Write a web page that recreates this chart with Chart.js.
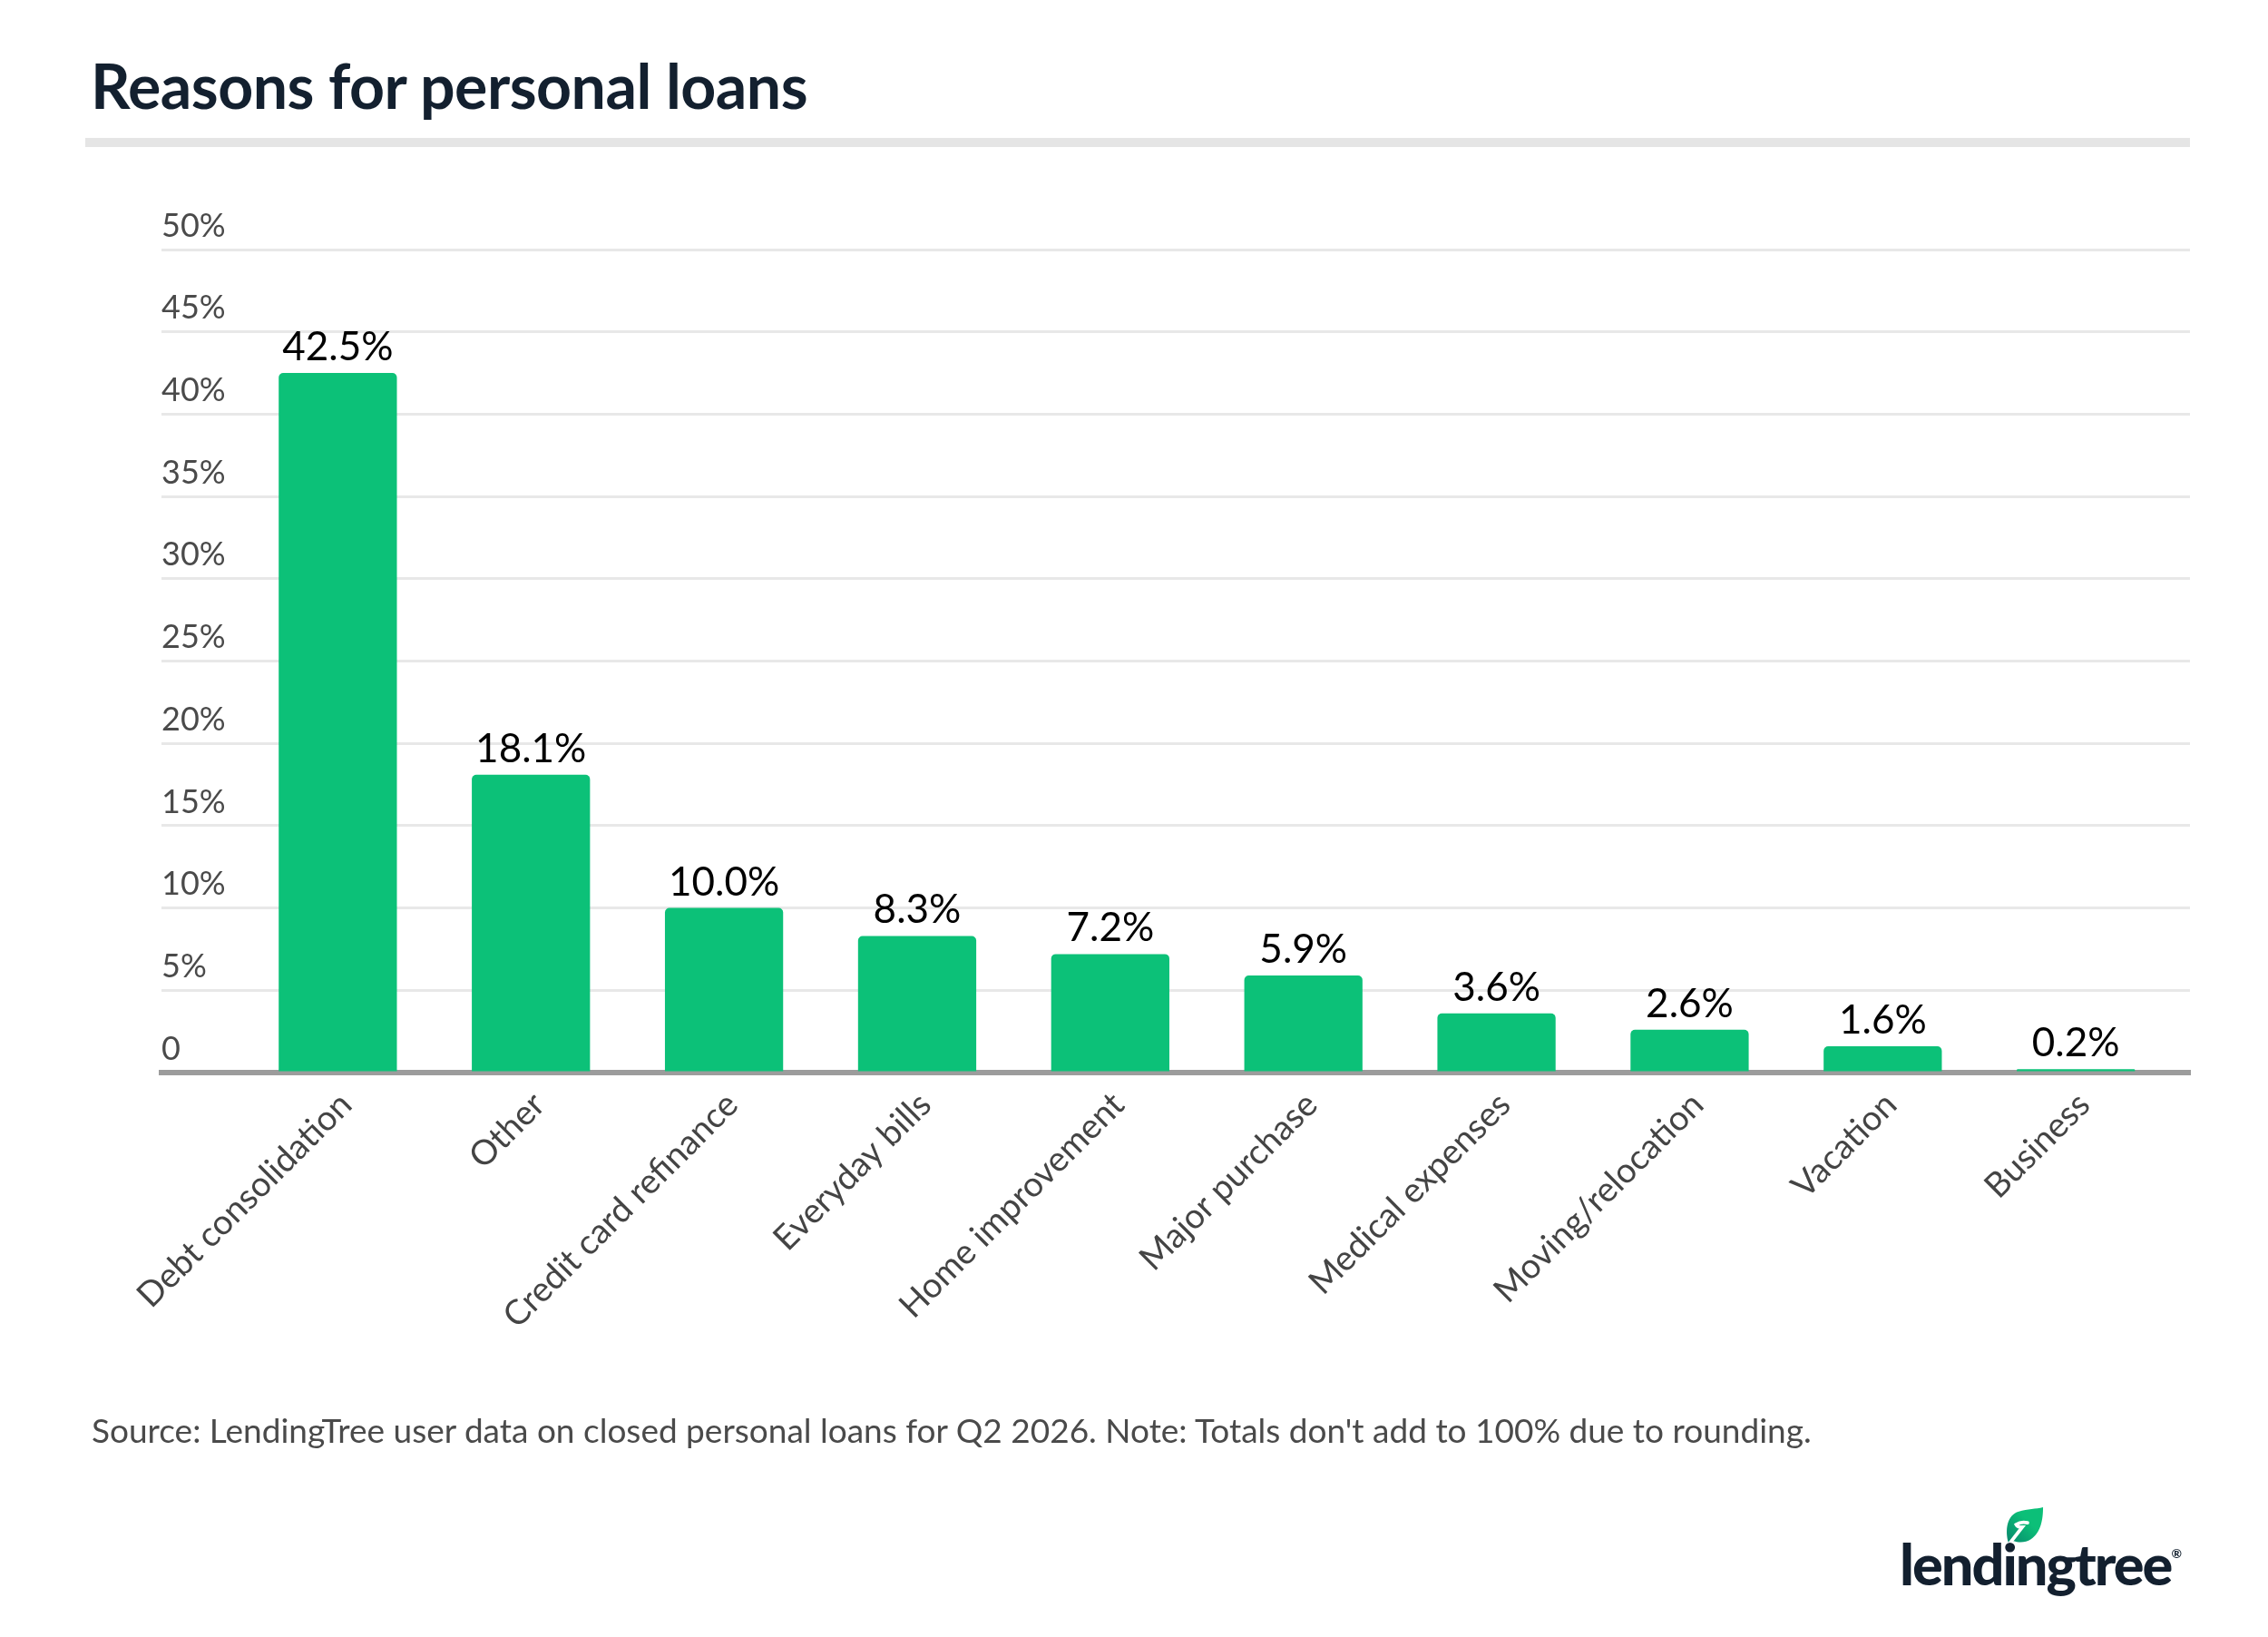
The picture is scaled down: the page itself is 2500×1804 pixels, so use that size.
<!DOCTYPE html>
<html>
<head>
<meta charset="utf-8">
<script src="https://cdn.jsdelivr.net/npm/chart.js@4.4.1/dist/chart.umd.min.js"></script>
<style>
  html, body { margin: 0; padding: 0; background: #fff; }
  body { width: 2500px; height: 1804px; position: relative; overflow: hidden; font-family: Lato, "Open Sans", sans-serif; }
  #title { position: absolute; left: 100px; top: 60px; font-size: 68px; font-weight: 700; color: #13202f; line-height: 1; letter-spacing: -0.5px; }
  #rule { position: absolute; left: 94px; top: 152px; width: 2320px; height: 10px; background: #e5e5e5; }
  #myChart { position: absolute; left: 0; top: 0; }
  #source { position: absolute; left: 101px; top: 1557px; font-size: 37px; color: #4a4a4a; line-height: 1; }
  #logo { position: absolute; left: 2094px; top: 1663px; width: 320px; height: 100px; }
  #logo .word { position: absolute; left: 0; top: 28px; font-size: 63px; font-weight: 900; color: #13202f; letter-spacing: -2px; line-height: 1; }
  #logo .word sup { font-size: 14px; font-weight: 700; vertical-align: top; position: relative; top: 14px; letter-spacing: 0; }
  #logo svg { position: absolute; left: 116px; top: -3px; }
</style>
</head>
<body>
<div id="title">Reasons for personal loans</div>
<div id="rule"></div>
<canvas id="myChart" width="2500" height="1804"></canvas>
<div id="source">Source: LendingTree user data on closed personal loans for Q2 2026. Note: Totals don't add to 100% due to rounding.</div>
<div id="logo">
  <svg width="44" height="42" viewBox="0 0 46 44">
    <defs>
      <linearGradient id="leafg" x1="0" y1="1" x2="1" y2="0">
        <stop offset="0" stop-color="#07866c"/>
        <stop offset="0.6" stop-color="#0cbf78"/>
      </linearGradient>
    </defs>
    <path d="M4 42 C0 28 2 10 16 6 C26 3 36 3 44 1 C44 14 42 30 30 38 C24 42 16 42 10 40 Z" fill="url(#leafg)"/>
    <path d="M6 42 L20 24 C17 24 14 23 13 21 C16 19 21 18 26 19" fill="none" stroke="#fff" stroke-width="4" stroke-linecap="round"/>
  </svg>
  <div class="word">lendingtree<sup>®</sup></div>
</div>
<script>
// 数据
const categories = ['Debt consolidation', 'Other', 'Credit card refinance', 'Everyday bills', 'Home improvement',
                    'Major purchase', 'Medical expenses', 'Moving/relocation', 'Vacation', 'Business'];
const shares = [42.5, 18.1, 10.0, 8.3, 7.2, 5.9, 3.6, 2.6, 1.6, 0.2];
const yTicks = [0, 5, 10, 15, 20, 25, 30, 35, 40, 45, 50];
const yTickLabels = ['0', '5%', '10%', '15%', '20%', '25%', '30%', '35%', '40%', '45%', '50%'];

const FONT = 'Lato, "Open Sans", sans-serif';

// 柱顶数值
const valueLabels = {
    id: 'valueLabels',
    afterDatasetsDraw(chart) {
        const ctx = chart.ctx;
        const meta = chart.getDatasetMeta(0);
        ctx.save();
        ctx.font = '44px ' + FONT;
        ctx.fillStyle = '#000';
        ctx.textAlign = 'center';
        ctx.textBaseline = 'alphabetic';
        meta.data.forEach((bar, i) => {
            ctx.fillText(shares[i].toFixed(1) + '%', bar.x, bar.y - 14);
        });
        ctx.restore();
    }
};

function RenderChart() {
    const ctx = document.getElementById('myChart');
    const points = shares.map((v, i) => ({ x: i, y: v }));
    const config = {
        type: 'bar',
        data: {
            datasets: [{
                data: points,
                backgroundColor: '#0cc178',
                borderRadius: { topLeft: 5, topRight: 5, bottomLeft: 0, bottomRight: 0 },
                borderSkipped: 'bottom',
                categoryPercentage: 1,
                barPercentage: 0.612
            }]
        },
        options: {
            responsive: false,
            animation: false,
            events: [],
            layout: { padding: { left: 178, right: 86, top: 275, bottom: 322 } },
            plugins: { legend: { display: false }, tooltip: { enabled: false } },
            scales: {
                x: {
                    type: 'linear',
                    offset: false,
                    min: -0.913,
                    max: 9.591,
                    z: 1,
                    grid: { display: false },
                    border: { display: true, color: '#9c9c9c', width: 6 },
                    afterBuildTicks: scale => { scale.ticks = categories.map((c, i) => ({ value: i })); },
                    afterFit: scale => { scale.height = 300; },
                    ticks: {
                        autoSkip: false,
                        minRotation: 45,
                        maxRotation: 45,
                        padding: 5,
                        labelOffset: 9,
                        color: '#444',
                        font: { family: FONT, size: 38 },
                        callback: v => categories[v]
                    }
                },
                y: {
                    min: 0,
                    max: 50,
                    afterBuildTicks: scale => { scale.ticks = yTicks.map(v => ({ value: v })); },
                    afterFit: scale => { scale.width = 0; },
                    border: { display: false },
                    grid: {
                        drawTicks: false,
                        color: '#e8e8e8',
                        lineWidth: 3
                    },
                    ticks: {
                        mirror: true,
                        padding: 0,
                        labelOffset: -26,
                        color: '#4a4a4a',
                        font: { family: FONT, size: 36 },
                        callback: (v, i) => yTickLabels[i]
                    }
                }
            }
        },
        plugins: [valueLabels]
    };
    new Chart(ctx, config);
}
RenderChart();
</script>
</body>
</html>
